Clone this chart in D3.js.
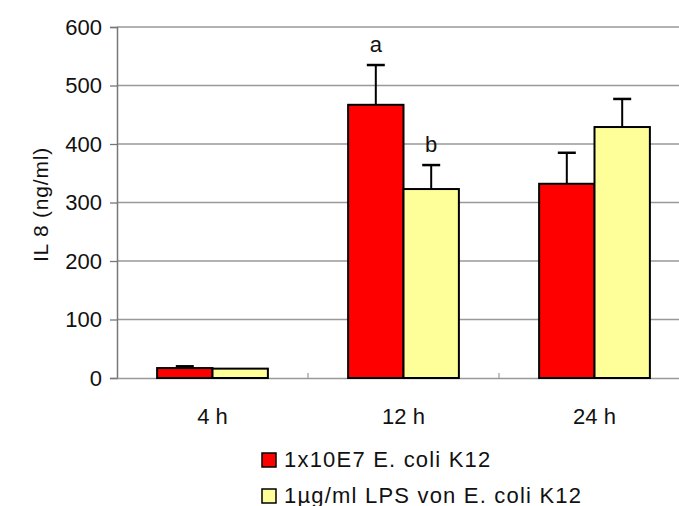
<!DOCTYPE html>
<html>
<head>
<meta charset="utf-8">
<script src="https://cdn.jsdelivr.net/npm/d3@7"></script>
<style>
  body { margin: 0; background: #fff; }
  svg { display: block; font-family: "Liberation Sans", Arial, sans-serif; }
</style>
</head>
<body>
<svg id="chart" width="679" height="506"></svg>
<script>
// IL-8 response chart
const categories = ["4 h", "12 h", "24 h"];
const seriesNames = ["1x10E7 E. coli K12", "1µg/ml LPS von E. coli K12"];
const ecoliValues = [17, 467, 332];
const ecoliErrors = [3, 68, 53];
const lpsValues = [16, 323, 429];
const lpsErrors = [0, 41, 48];
const yTicks = [0, 100, 200, 300, 400, 500, 600];
const letters = [{ cat: "12 h", series: 0, text: "a" }, { cat: "12 h", series: 1, text: "b" }];

const colors = ["#ff0000", "#ffff99"];
const font = "Liberation Sans, Arial, sans-serif";
const svg = d3.select("#chart");
const margin = { left: 117, right: -11, top: 27, bottom: 128 };
const width = 679 - margin.left - margin.right;
const height = 506 - margin.top - margin.bottom;

const g = svg.append("g").attr("transform", `translate(${margin.left},${margin.top})`);

const x = d3.scaleBand().domain(categories).range([0, width]);
const xInner = d3.scaleBand().domain([0, 1]).range([x.bandwidth() * 0.21, x.bandwidth() * 0.79]);
const y = d3.scaleLinear().domain([0, 600]).range([height, 0]);

// grid lines
g.append("g")
  .selectAll("line")
  .data(yTicks.slice(1))
  .join("line")
  .attr("x1", 0).attr("x2", width)
  .attr("y1", d => y(d)).attr("y2", d => y(d))
  .attr("stroke", "#999").attr("stroke-width", 1.3);

// y axis
const yAxis = g.append("g")
  .call(d3.axisLeft(y).tickValues(yTicks).tickSize(7).tickPadding(8));
yAxis.select(".domain").attr("stroke", "#777").attr("stroke-width", 1.5);
yAxis.selectAll(".tick line").attr("stroke", "#777").attr("stroke-width", 1.3);
yAxis.selectAll("text").attr("font-size", 22).attr("fill", "#111").attr("font-family", font);

// x axis
const xAxis = g.append("g")
  .attr("transform", `translate(0,${height})`)
  .call(d3.axisBottom(x).tickSize(0).tickPadding(30));
xAxis.select(".domain").attr("stroke", "#999").attr("stroke-width", 1.5);
xAxis.selectAll("text").attr("font-size", 22).attr("fill", "#111").attr("font-family", font);

// small tick marks between categories
g.append("g")
  .selectAll("line")
  .data(categories.slice(1))
  .join("line")
  .attr("x1", d => x(d)).attr("x2", d => x(d))
  .attr("y1", height).attr("y2", height - 5)
  .attr("stroke", "#999").attr("stroke-width", 1.2);

const rows = categories.map((c, i) => ({
  cat: c,
  vals: [
    { s: 0, v: ecoliValues[i], e: ecoliErrors[i] },
    { s: 1, v: lpsValues[i], e: lpsErrors[i] }
  ]
}));

const groups = g.append("g")
  .selectAll("g")
  .data(rows)
  .join("g")
  .attr("transform", d => `translate(${x(d.cat)},0)`);

// error bars (drawn behind bars)
groups.selectAll("g.err")
  .data(d => d.vals.filter(v => v.e > 0))
  .join("g")
  .attr("class", "err")
  .each(function (d) {
    const cx = xInner(d.s) + xInner.bandwidth() / 2;
    const el = d3.select(this);
    el.append("line")
      .attr("x1", cx).attr("x2", cx)
      .attr("y1", y(d.v)).attr("y2", y(d.v + d.e))
      .attr("stroke", "#000").attr("stroke-width", 2);
    el.append("line")
      .attr("x1", cx - 9).attr("x2", cx + 9)
      .attr("y1", y(d.v + d.e)).attr("y2", y(d.v + d.e))
      .attr("stroke", "#000").attr("stroke-width", 2.5);
  });

groups.selectAll("rect")
  .data(d => d.vals)
  .join("rect")
  .attr("x", d => xInner(d.s))
  .attr("width", xInner.bandwidth())
  .attr("y", d => y(d.v))
  .attr("height", d => y(0) - y(d.v))
  .attr("fill", d => colors[d.s])
  .attr("stroke", "#000")
  .attr("stroke-width", 2);

// significance letters
g.append("g")
  .selectAll("text")
  .data(letters)
  .join("text")
  .attr("x", d => x(d.cat) + xInner(d.series) + xInner.bandwidth() / 2)
  .attr("y", d => {
    const i = categories.indexOf(d.cat);
    const top = d.series === 0 ? ecoliValues[i] + ecoliErrors[i] : lpsValues[i] + lpsErrors[i];
    return y(top) - 13;
  })
  .attr("text-anchor", "middle")
  .attr("font-size", 22)
  .attr("fill", "#111")
  .text(d => d.text);

// y axis title
svg.append("text")
  .attr("transform", `translate(48,${margin.top + height / 2 + 2}) rotate(-90)`)
  .attr("text-anchor", "middle")
  .attr("font-size", 21)
  .attr("letter-spacing", 0.8)
  .attr("fill", "#111")
  .text("IL 8 (ng/ml)");

// legend
const legend = svg.append("g").attr("transform", "translate(262,453)");
const item = legend.selectAll("g")
  .data(seriesNames)
  .join("g")
  .attr("transform", (d, i) => `translate(0,${i * 36})`);
item.append("rect")
  .attr("width", 14).attr("height", 14)
  .attr("fill", (d, i) => colors[i])
  .attr("stroke", "#000").attr("stroke-width", 1.5);
item.append("text")
  .attr("x", 22).attr("y", 14)
  .attr("font-size", 22)
  .attr("letter-spacing", 1.2)
  .attr("fill", "#111")
  .text(d => d);
</script>
</body>
</html>
